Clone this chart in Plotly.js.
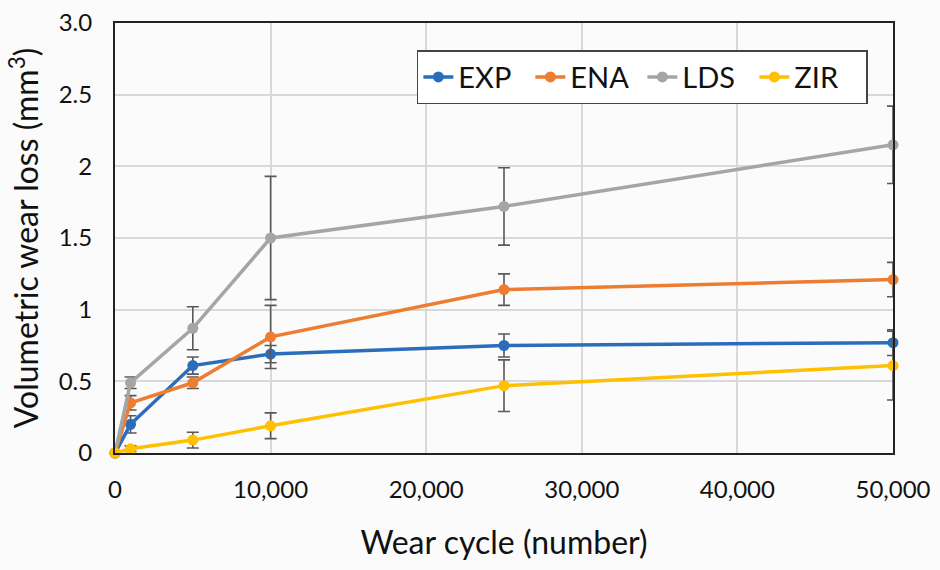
<!DOCTYPE html>
<html><head><meta charset="utf-8">
<script src="https://cdn.plot.ly/plotly-3.0.1.min.js"></script>
<style>body{margin:0;background:#fbfbfb}#chart{width:940px;height:570px}</style>
</head><body><div id="chart"></div>
<script>
const cycles = [0, 1000, 5000, 10000, 25000, 50000];
const expVals = [0, 0.20, 0.61, 0.69, 0.75, 0.77];
const expErr  = [0, 0.06, 0.06, 0.06, 0.08, 0.09];
const enaVals = [0, 0.35, 0.49, 0.81, 1.14, 1.21];
const enaErr  = [0, 0.05, 0.04, 0.22, 0.11, 0.12];
const ldsVals = [0, 0.49, 0.87, 1.50, 1.72, 2.15];
const ldsErr  = [0, 0.04, 0.15, 0.43, 0.27, 0.27];
const zirVals = [0, 0.03, 0.09, 0.19, 0.47, 0.61];
const zirErr  = [0, 0.02, 0.055, 0.09, 0.18, 0.24];
const seriesNames = ['EXP', 'ENA', 'LDS', 'ZIR'];
const colors = ['#2a6ebb', '#ED7D31', '#A5A5A5', '#FFC000'];
const yTickVals = [0, 0.5, 1, 1.5, 2, 2.5, 3];
const yTickText = ['0', '0.5', '1', '1.5', '2', '2.5', '3.0'];
const xTickVals = [0, 10000, 20000, 30000, 40000, 50000];
const xTickText = ['0', '10,000', '20,000', '30,000', '40,000', '50,000'];

const vals = [expVals, enaVals, ldsVals, zirVals];
const errs = [expErr, enaErr, ldsErr, zirErr];
const FONT = 'Lato, "Open Sans", sans-serif';

const traces = seriesNames.map((n, i) => ({
  x: cycles, y: vals[i], name: n, type: 'scatter', mode: 'lines+markers',
  line: {color: colors[i], width: 3.5},
  marker: {color: colors[i], size: 11},
  error_y: {type: 'data', array: errs[i], visible: true, color: '#595959', thickness: 1.6, width: 6},
  cliponaxis: false
}));

const layout = {
  width: 940, height: 570,
  paper_bgcolor: '#fbfbfb', plot_bgcolor: '#fbfbfb',
  margin: {l: 115, r: 47, t: 23, b: 117},
  font: {family: FONT, color: '#111'},
  showlegend: true,
  legend: {orientation: 'h', x: 0.388, y: 0.937, xanchor: 'left', yanchor: 'top',
    entrywidth: 67,
    bgcolor: '#ffffff', bordercolor: '#444', borderwidth: 1.5,
    font: {size: 29, family: FONT, color: '#111'}},
  xaxis: {range: [0, 50000], tickvals: xTickVals, ticktext: xTickText,
    showgrid: true, gridcolor: '#d9d9d9', gridwidth: 1.5, zeroline: false,
    showline: true, linecolor: '#222', linewidth: 2, mirror: true, ticks: '',
    ticklabelstandoff: 14,
    tickfont: {size: 24}, title: {text: 'Wear cycle (number)', font: {size: 32}, standoff: 30}},
  yaxis: {range: [0, 3], tickvals: yTickVals, ticktext: yTickText,
    showgrid: true, gridcolor: '#d9d9d9', gridwidth: 1.5, zeroline: false,
    showline: true, linecolor: '#222', linewidth: 2, mirror: true, ticks: '',
    ticklabelstandoff: 16,
    tickfont: {size: 24}, title: {text: 'Volumetric wear loss (mm<sup>3</sup>)', font: {size: 32}, standoff: 10}}
};
Plotly.newPlot('chart', traces, layout, {displayModeBar: false});
</script></body></html>
